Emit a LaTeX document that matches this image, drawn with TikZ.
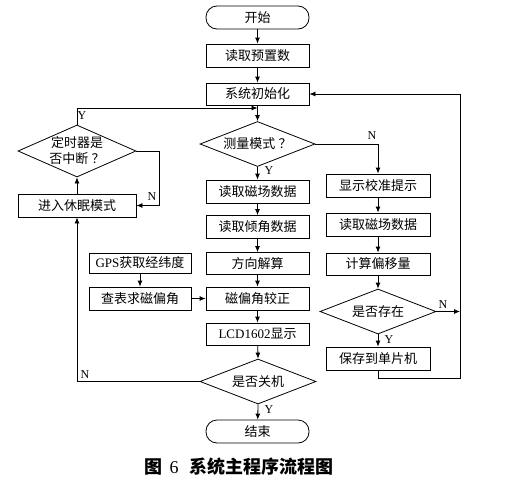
\documentclass[tikz,border=0pt]{standalone}
\usepackage{fontspec}
\setmainfont{Liberation Serif}
\newfontfamily\cjk{Noto Sans CJK SC}
\newfontfamily\lat{Liberation Serif}
\usetikzlibrary{shapes.geometric,arrows.meta}
\tikzset{
  base/.style={draw, line width=0.8pt, inner sep=0pt, font=\cjk\fontsize{13}{15}\selectfont},
  procbox/.style={base, rectangle, minimum width=103pt, minimum height=23pt},
  termbox/.style={base, rectangle, rounded corners=11pt, minimum width=103pt, minimum height=23pt},
  decbox/.style={draw, line width=0.8pt, shape=diamond, inner sep=0pt},
  dtext/.style={font=\cjk\fontsize{13}{16}\selectfont, align=center},
  arr/.style={line width=0.8pt, -{Latex[length=6pt,width=5pt]}},
  ln/.style={line width=0.8pt},
  yn/.style={font=\lat\fontsize{12}{12}\selectfont, inner sep=0pt}
}
\begin{document}
\begin{tikzpicture}[x=1pt,y=-1pt]
\useasboundingbox (0,0) rectangle (529,479);
% main column
\node[termbox] (start) at (257.5,17.5) {开始};
\node[procbox] (preset) at (257.5,55.5) {读取预置数};
\node[procbox, minimum height=22pt] (init) at (257.5,94) {系统初始化};
\node[decbox, minimum width=115pt, minimum height=45pt] (mode) at (257.5,144) {};
\node[dtext] (modet) at (mode.center) {测量模式\hspace{0.25em}？};
\node[procbox] (rd1) at (257.5,191.5) {读取磁场数据};
\node[procbox] (rd2) at (257.5,227) {读取倾角数据};
\node[procbox, minimum height=22pt] (dir) at (257.5,263.5) {方向解算};
\node[procbox] (corr) at (257.5,298.5) {磁偏角较正};
\node[procbox, minimum height=22pt] (lcd) at (257.5,334) {{\lat LCD1602}显示};
\node[decbox, minimum width=116pt, minimum height=45pt] (off) at (258,381.5) {};
\node[dtext] (offt) at (off.center) {是否关机};
\node[termbox] (end) at (257.5,431.5) {结束};
% right column
\node[procbox, minimum width=104pt] (cal) at (378,185.5) {显示校准提示};
\node[procbox, minimum width=104pt] (rd3) at (378,224.5) {读取磁场数据};
\node[procbox, minimum width=104pt, minimum height=22pt] (calc) at (378,264) {计算偏移量};
\node[decbox, minimum width=116pt, minimum height=45pt] (exist) at (378,311.5) {};
\node[dtext] (existt) at (exist.center) {是否存在};
\node[procbox, minimum width=104pt] (save) at (378,358.5) {保存到单片机};
% left
\node[procbox, minimum width=102pt, minimum height=20pt] (gps) at (140,263) {{\lat GPS}获取经纬度};
\node[procbox, minimum width=102pt] (tab) at (140,298.5) {查表求磁偏角};
\node[procbox, minimum width=118pt] (sleep) at (77,205.5) {进入休眠模式};
\node[decbox, minimum width=118pt, minimum height=52pt] (timer) at (77,151) {};
\node[dtext] (timert) at (timer.center) {定时器是\\否中断\hspace{0.25em}？};
% coordinates
\coordinate (j1) at (257.5,108);
\coordinate (tn) at (159,151);
\coordinate (r1) at (460,378.5);
\coordinate (r2) at (460,94);
\coordinate (ex) at (460,311.5);
% connectors
\draw[arr] (start) -- (preset);
\draw[arr] (preset) -- (init);
\draw[arr] (init) -- (mode.north);
\draw[arr] (timer.north) |- (j1);
\draw[arr] (mode.south) -- (rd1);
\draw[arr] (mode.east) -| (cal.north);
\draw[arr] (rd1) -- (rd2);
\draw[arr] (rd2) -- (dir);
\draw[arr] (dir) -- (corr);
\draw[arr] (corr) -- (lcd);
\draw[arr] (lcd) -- (off.north);
\draw[arr] (off.south) -- (end);
\draw[arr] (gps) -- (tab);
\draw[arr] (tab) -- (corr);
\draw[arr] (off.west) -| (sleep.south);
\draw[arr] (sleep) -- (timer.south);
\draw[arr] (timer.east) -- (tn) |- (sleep.east);
\draw[arr] (cal) -- (rd3);
\draw[arr] (rd3) -- (calc);
\draw[arr] (calc) -- (exist.north);
\draw[arr] (exist.south) -- (save);
\draw[arr] (exist.east) -- (ex);
\draw[arr] (save.south) |- (r1) -- (r2) -- (init.east);
% labels
\node[yn] (ly1) at (82,116) {Y};
\node[yn] (ln1) at (152,197) {N};
\node[yn] (ly2) at (269,171) {Y};
\node[yn] (ln2) at (372,136) {N};
\node[yn] (ln3) at (85,375) {N};
\node[yn] (ly3) at (269,410) {Y};
\node[yn] (ln4) at (443,305) {N};
\node[yn] (ly4) at (389,340) {Y};
% caption
\node[font=\cjk\bfseries\fontsize{18}{18}\selectfont, inner sep=0pt] (cap) at (239,467) {图\hspace{0.4em}{\lat\mdseries 6}\hspace{0.6em}系统主程序流程图};
\end{tikzpicture}
\end{document}
